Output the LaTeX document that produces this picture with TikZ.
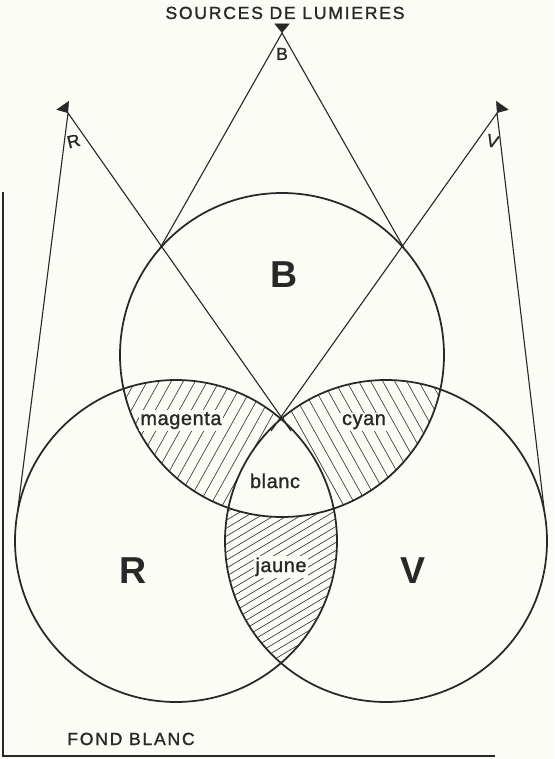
\documentclass[tikz,border=0pt]{standalone}
\usepackage{fontspec}
\setsansfont{Liberation Sans}
\newfontfamily\letter[FakeBold=1.2]{Liberation Sans}
\usetikzlibrary{arrows.meta,calc}
\definecolor{paper}{RGB}{252,252,247}
\definecolor{ink}{RGB}{40,40,40}

\begin{document}
\begin{tikzpicture}[x=0.03cm,y=-0.03cm,font=\sffamily,color=ink]
\tikzset{ring/.style={draw=ink,line width=1.5pt},
  ray/.style={draw=ink,line width=0.95pt},
  hatch/.style={draw=ink,line width=0.5pt},
  src/.style={draw=ink,fill=ink,-{Triangle[width=13pt,length=8pt]}},
  caps/.style={anchor=base,font=\letter\fontsize{15}{17}\selectfont\addfontfeature{LetterSpace=10}},
  lbl/.style={anchor=base,fill=paper,inner sep=1.5pt,font=\letter\fontsize{17}{19}\selectfont\addfontfeature{LetterSpace=3}},
  big/.style={anchor=base,font=\sffamily\bfseries\fontsize{32}{36}\selectfont},
  tag/.style={anchor=base,font=\letter\fontsize{15}{17}\selectfont}}
\fill[paper] (0,0) rectangle (554,759);
\useasboundingbox (0,0) rectangle (554,759);
\def\radB{162}\def\radRV{161}
% centres et sources
\coordinate (cB) at (282,355);
\coordinate (cR) at (176,541);
\coordinate (cV) at (386,541);
\coordinate (sB) at (282,33);
\coordinate (sR) at (68,113);
\coordinate (sV) at (497,113);
\coordinate (aim) at (282,420);
% hachures magenta
\begin{scope}
  \clip (cB) circle (\radB); \clip (cR) circle (\radRV);
  \foreach \x in {0,12,...,372} \draw[hatch] (\x,560) -- ++(110,-198);
\end{scope}
% hachures cyan
\begin{scope}
  \clip (cB) circle (\radB); \clip (cV) circle (\radRV);
  \foreach \x in {180,192,...,480} \draw[hatch] (\x,362) -- ++(110,198);
\end{scope}
% hachures jaune
\begin{scope}
  \clip (cR) circle (\radRV); \clip (cV) circle (\radRV);
  \foreach \y in {400,408,...,800} \draw[hatch] (200,\y) -- ++(180,-108);
\end{scope}
% blanc
\begin{scope}
  \clip (cB) circle (\radB); \clip (cR) circle (\radRV);
  \fill[paper] (cV) circle (\radRV);
\end{scope}
% cercles
\draw[ring] (cB) circle (\radB);
\draw[ring] (cR) circle (\radRV);
\draw[ring] (cV) circle (\radRV);
% rayons
\coordinate (tBl) at (159,250);
\coordinate (tBr) at (405,250);
\coordinate (tRl) at (18,508);
\coordinate (tRr) at (291,431);
\coordinate (tVl) at (271,431);
\coordinate (tVr) at (544,508);
\draw[ray] (tBl) -- (sB) -- (tBr);
\draw[ray] (tRl) -- (sR) -- (tRr);
\draw[ray] (tVl) -- (sV) -- (tVr);
\draw[src] ($(sB)!-8pt!(cB)$) -- (sB);
\draw[src] ($(sR)!-8pt!(aim)$) -- (sR);
\draw[src] ($(sV)!-8pt!(aim)$) -- (sV);
% cadre
\draw[ray] (3,192) -- (3,756) -- (495,756);
% textes
\node[caps] (title) at (285,19) {SOURCES DE LUMIERES};
\node[caps] (fond) at (131,745) {FOND BLANC};
\node[tag] (lB) at (282,60) {B};
\node[tag,rotate=14] (lR) at (75,147) {R};
\node[tag,rotate=-15] (lV) at (491,147) {V};
\node[big] (bigB) at (284,287) {B};
\node[big] (bigR) at (133,583) {R};
\node[big] (bigV) at (413,583) {V};
\node[lbl] (mag) at (181,425) {magenta};
\node[lbl] (cya) at (364,425) {cyan};
\node[lbl] (bla) at (275,488) {blanc};
\node[lbl] (jau) at (281,572) {jaune};
\end{tikzpicture}
\end{document}
